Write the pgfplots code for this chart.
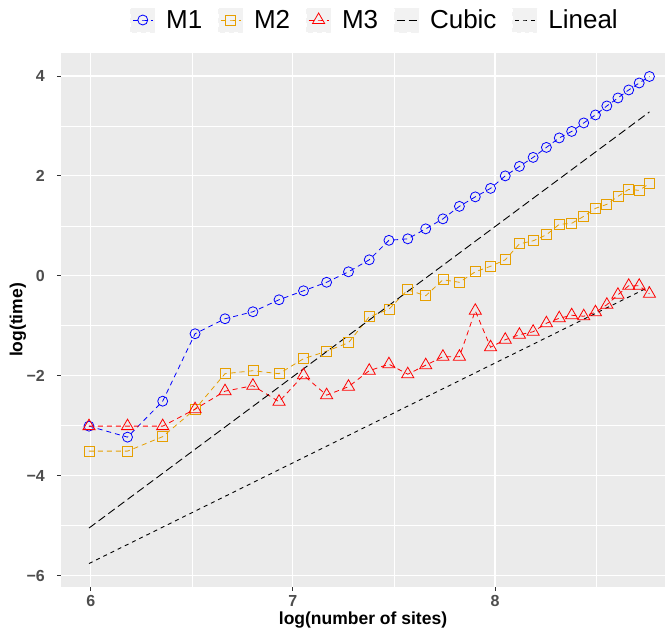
\documentclass[border=0pt]{standalone}
\usepackage{fontspec}
\setmainfont{Liberation Sans}
\usepackage{pgfplots}
\pgfplotsset{compat=1.18}
\definecolor{panel}{HTML}{EBEBEB}
\definecolor{mtwo}{HTML}{E69F00}
\definecolor{tickc}{HTML}{4D4D4D}
\definecolor{tickl}{HTML}{333333}
\definecolor{keybg}{HTML}{F2F2F2}
\begin{document}
\begin{tikzpicture}
\begin{axis}[
  scale only axis, width=604pt, height=534pt,
  xmin=5.853, xmax=8.841, ymin=-6.23, ymax=4.46,
  axis background/.style={fill=panel},
  axis line style={draw=none},
  xtick={6,7,8}, ytick={-6,-4,-2,0,2,4},
  minor xtick={6.5,7.5,8.5}, minor ytick={-5,-3,-1,1,3},
  grid=both,
  major grid style={white, line width=1.1pt},
  minor grid style={white, line width=0.55pt},
  tick align=outside, tick pos=left,
  major tick length=4pt, minor tick length=0pt,
  tick style={tickl, line width=0.8pt},
  xticklabels={\textbf{6},\textbf{7},\textbf{8}},
  yticklabels={\textbf{−6},\textbf{−4},\textbf{−2},\textbf{0},\textbf{2},\textbf{4}},
  tick label style={font=\fontsize{16}{16}\selectfont\bfseries, text=tickc},
  yticklabel style={anchor=east, inner sep=0pt, xshift=-12pt},
  xticklabel style={yshift=-1pt},
  xlabel={log(number of sites)}, ylabel={log(time)},
  label style={font=\fontsize{17.5}{17.5}\selectfont\bfseries},
  xlabel style={at={(axis description cs:0.5,-0.0618)}, anchor=center},
  ylabel style={at={(axis description cs:-0.0712,0.5)}, anchor=center},
  legend columns=5,
  legend style={at={(axis description cs:0.52,1.0618)}, anchor=center, draw=none, fill=none,
    font=\fontsize{26}{26}\selectfont,
    /tikz/every even column/.append style={column sep=14pt},
    /tikz/every odd column/.append style={column sep=9pt}},
  legend image code/.code={
    \fill[keybg] (0pt,-12pt) rectangle (24pt,12pt);
    \draw[mark repeat=2,mark phase=2,#1] plot coordinates {(2pt,0pt) (12pt,0pt) (22pt,0pt)};
  },
]
\addplot[blue, line width=0.8pt, dash pattern=on 5pt off 4pt, mark=o, mark size=5pt, mark options={solid, line width=0.8pt}] coordinates {
(5.9915,-3.01) (6.1821,-3.23) (6.3561,-2.51) (6.5162,-1.16) (6.6644,-0.86) (6.8024,-0.72) (6.9315,-0.48) (7.0527,-0.30) (7.1670,-0.13) (7.2752,0.08) (7.3778,0.32) (7.4753,0.71) (7.5684,0.74) (7.6573,0.94) (7.7424,1.14) (7.8240,1.39) (7.9025,1.58) (7.9780,1.75) (8.0507,2.00) (8.1209,2.19) (8.1887,2.37) (8.2543,2.57) (8.3178,2.76) (8.3793,2.89) (8.4390,3.06) (8.4970,3.22) (8.5533,3.40) (8.6081,3.56) (8.6615,3.72) (8.7134,3.86) (8.7641,3.99)};
\addlegendentry{M1}
\addplot[mtwo, line width=0.8pt, dash pattern=on 5pt off 4pt, mark=square, mark size=5pt, mark options={solid, line width=0.8pt}] coordinates {
(5.9915,-3.51) (6.1821,-3.51) (6.3561,-3.22) (6.5162,-2.67) (6.6644,-1.96) (6.8024,-1.90) (6.9315,-1.96) (7.0527,-1.66) (7.1670,-1.51) (7.2752,-1.34) (7.3778,-0.82) (7.4753,-0.67) (7.5684,-0.28) (7.6573,-0.40) (7.7424,-0.08) (7.8240,-0.13) (7.9025,0.08) (7.9780,0.19) (8.0507,0.32) (8.1209,0.64) (8.1887,0.70) (8.2543,0.82) (8.3178,1.03) (8.3793,1.05) (8.4390,1.19) (8.4970,1.35) (8.5533,1.43) (8.6081,1.59) (8.6615,1.73) (8.7134,1.71) (8.7641,1.85)};
\addlegendentry{M2}
\addplot[red, line width=0.8pt, dash pattern=on 5pt off 4pt, mark=triangle, mark size=7pt, mark options={solid, line width=0.8pt}] coordinates {
(5.9915,-3.01) (6.1821,-3.01) (6.3561,-3.01) (6.5162,-2.67) (6.6644,-2.31) (6.8024,-2.20) (6.9315,-2.52) (7.0527,-1.99) (7.1670,-2.39) (7.2752,-2.22) (7.3778,-1.90) (7.4753,-1.77) (7.5684,-1.97) (7.6573,-1.79) (7.7424,-1.62) (7.8240,-1.62) (7.9025,-0.70) (7.9780,-1.43) (8.0507,-1.28) (8.1209,-1.18) (8.1887,-1.12) (8.2543,-0.95) (8.3178,-0.85) (8.3793,-0.79) (8.4390,-0.81) (8.4970,-0.73) (8.5533,-0.58) (8.6081,-0.38) (8.6615,-0.20) (8.7134,-0.20) (8.7641,-0.36)};
\addlegendentry{M3}
\addplot[black, line width=0.9pt, dash pattern=on 8pt off 4pt] coordinates {(5.9915,-5.05) (8.7641,3.28)};
\addlegendentry{Cubic}
\addplot[black, line width=0.9pt, dash pattern=on 4pt off 4pt] coordinates {(5.9915,-5.76) (8.7641,-0.22)};
\addlegendentry{Lineal}
\end{axis}
\pgfresetboundingbox
\path[use as bounding box] (-61pt,-42pt) rectangle (604pt,587pt);
\end{tikzpicture}
\end{document}
